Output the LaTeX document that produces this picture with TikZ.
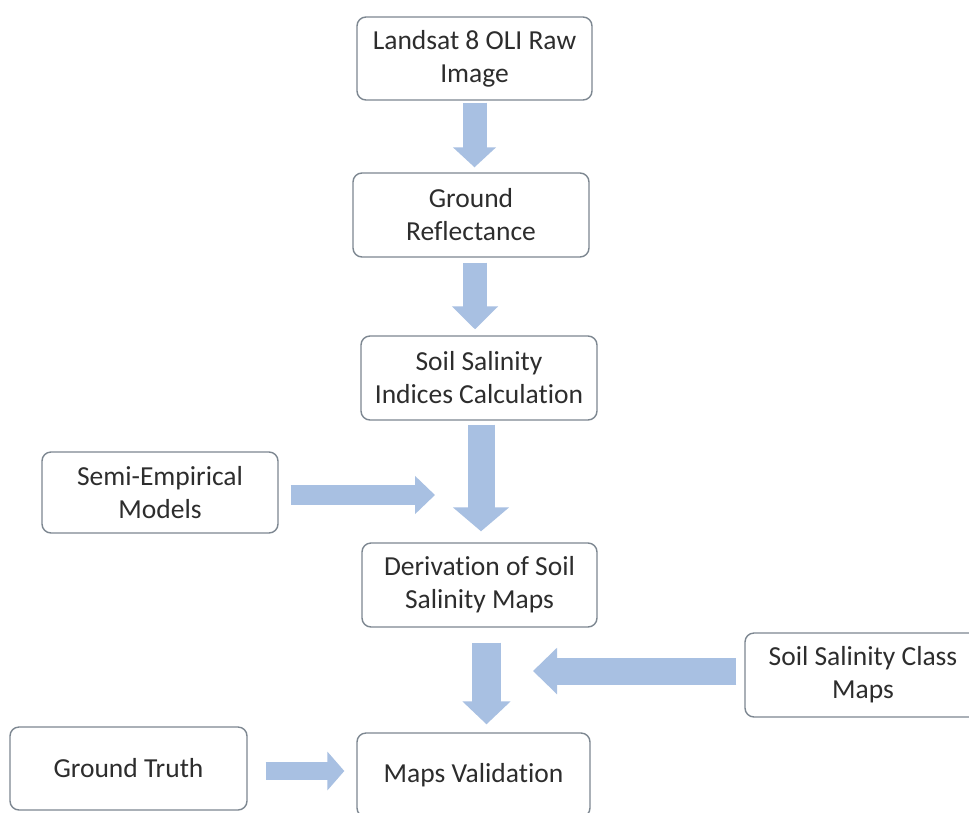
\documentclass[tikz,border=0pt]{standalone}
\usepackage{fontspec}
\setmainfont{Carlito}[Ligatures=NoCommon]
\usetikzlibrary{arrows.meta}
\definecolor{arrowblue}{RGB}{168,192,226}
\definecolor{boxline}{RGB}{125,135,145}
\definecolor{txt}{RGB}{45,45,45}
\begin{document}
\begin{tikzpicture}[x=1pt,y=-1pt,
  box/.style={draw=boxline, line width=1.4pt, rounded corners=9pt, fill=white,
    align=center, text=txt, font=\fontsize{27.5}{33}\selectfont, inner sep=0pt,
    minimum width=236pt, minimum height=84pt},
  blk/.style n args={3}{draw=arrowblue, line width=#1,
    -{Triangle[width=#2,length=#3]}}]
\useasboundingbox[fill=white] (0,0) rectangle (969,812);

\node[box, minimum width=235pt, minimum height=83pt] (raw) at (474.5,58.5) {Landsat 8 OLI Raw\\Image};
\node[box] (refl) at (471,215) {Ground\\Reflectance};
\node[box] (idx) at (479,378) {Soil Salinity\\Indices Calculation};
\node[box, minimum height=81pt] (semi) at (160,492.5) {Semi-Empirical\\Models};
\node[box, minimum width=235pt] (der) at (479.5,585) {Derivation of Soil\\Salinity Maps};
\node[box] (cls) at (863,675) {Soil Salinity Class\\Maps};
\node[box, minimum width=233pt] (val) at (473.5,775) {Maps Validation};
\node[box, minimum width=237pt, minimum height=83pt] (gt) at (128.5,768.5) {Ground Truth};

\coordinate (semiend) at (435,495);
\coordinate (clsend) at (533,671);

\draw[blk={24pt}{42pt}{20pt}, shorten <=2pt, shorten >=5pt]
  (raw.south) -- (raw.south |- refl.north);
\draw[blk={24pt}{45pt}{23pt}, shorten <=5pt, shorten >=6pt]
  ([xshift=4pt]refl.south) -- ([xshift=4pt]refl.south |- idx.north);
\draw[blk={27pt}{55pt}{24pt}, shorten <=4pt, shorten >=11pt]
  ([xshift=2pt]idx.south) -- ([xshift=2pt]idx.south |- der.north);
\draw[blk={29pt}{47pt}{23pt}, shorten <=15pt, shorten >=8pt]
  ([xshift=7pt]der.south) -- ([xshift=7pt]der.south |- val.north);
\draw[blk={20pt}{37pt}{20pt}, shorten <=12pt]
  ([yshift=-2.5pt]semi.east) -- (semiend);
\draw[blk={27pt}{45pt}{24pt}, shorten <=8pt]
  ([yshift=4pt]cls.west) -- (clsend);
\draw[blk={18pt}{38pt}{17pt}, shorten <=18pt, shorten >=12pt]
  ([yshift=-2.5pt]gt.east) -- ([yshift=-2.5pt]gt.east -| val.west);
\end{tikzpicture}
\end{document}
